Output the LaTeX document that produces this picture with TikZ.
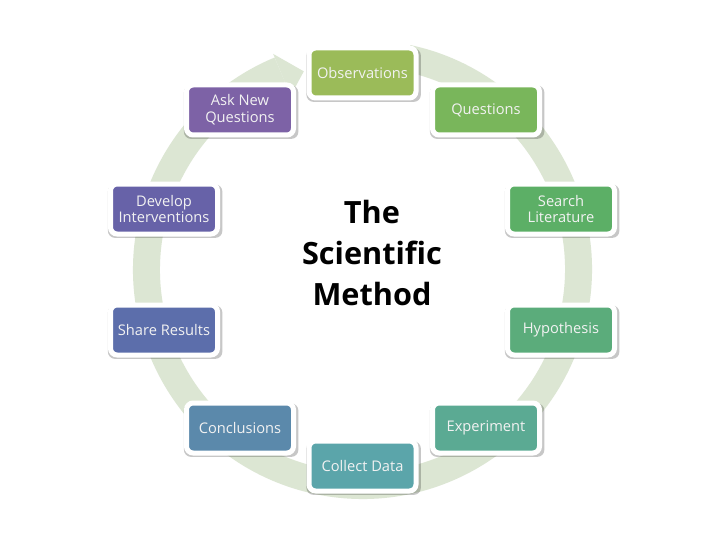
\documentclass[tikz,border=0pt]{standalone}
\usepackage{fontspec}
\setmainfont{Open Sans}
\usetikzlibrary{shadows}
\definecolor{ringc}{HTML}{DCE6D3}
\definecolor{cObs}{HTML}{9BBB59}
\definecolor{cQue}{HTML}{79B65B}
\definecolor{cSea}{HTML}{5CAF66}
\definecolor{cHyp}{HTML}{5BAC7B}
\definecolor{cExp}{HTML}{5BAA93}
\definecolor{cCol}{HTML}{5BA5AA}
\definecolor{cCon}{HTML}{5B89AB}
\definecolor{cSha}{HTML}{5C6EAB}
\definecolor{cDev}{HTML}{6762A8}
\definecolor{cAsk}{HTML}{7D62A6}
\begin{document}
\begin{tikzpicture}[x=0.75pt,y=0.75pt,
  box/.style={rounded corners=5pt, minimum width=80.25pt, minimum height=37.5pt,
    inner sep=1pt, text=white!95!black, font=\fontsize{11}{12.5}\selectfont, align=center,
    draw=white, line width=3.75pt,
    drop shadow={shadow xshift=0.8pt, shadow yshift=-1.5pt, shadow scale=1.07, opacity=0.22, fill=black}},
  title/.style={font=\fontsize{23}{30.75}\selectfont\bfseries, align=center, text=black}]
\useasboundingbox (0,0) rectangle (720,540);
\fill[white] (0,0) rectangle (720,540);
\coordinate (C) at (362.5,270.5);
% ring
\draw[ringc, line width=20.25pt] ([shift={(78:162pt)}]C) arc[start angle=78, end angle=-247.5, radius=162pt];
\fill[ringc] ([shift={(112.5:175pt)}]C) -- ([shift={(106.5:155pt)}]C) -- ([shift={(112.5:141pt)}]C) -- cycle;
% boxes
\node[box, fill=cObs] (obs) at (362.5,467) {Observations};
\node[box, fill=cQue] (que) at (486,430) {Questions};
\node[box, fill=cSea] (sea) at (561,331) {Search\\Literature};
\node[box, fill=cHyp] (hyp) at (561,210) {Hypothesis};
\node[box, fill=cExp] (exp) at (486,112) {Experiment};
\node[box, fill=cCol] (col) at (362.5,74) {Collect Data};
\node[box, fill=cCon] (con) at (240,112) {Conclusions};
\node[box, fill=cSha] (sha) at (164,210) {Share Results};
\node[box, fill=cDev] (dev) at (164,331) {Develop\\Interventions};
\node[box, fill=cAsk] (ask) at (240,430) {Ask New\\Questions};
\node[title] (ttl) at (372,287) {The\\Scientific\\Method};
\end{tikzpicture}
\end{document}
